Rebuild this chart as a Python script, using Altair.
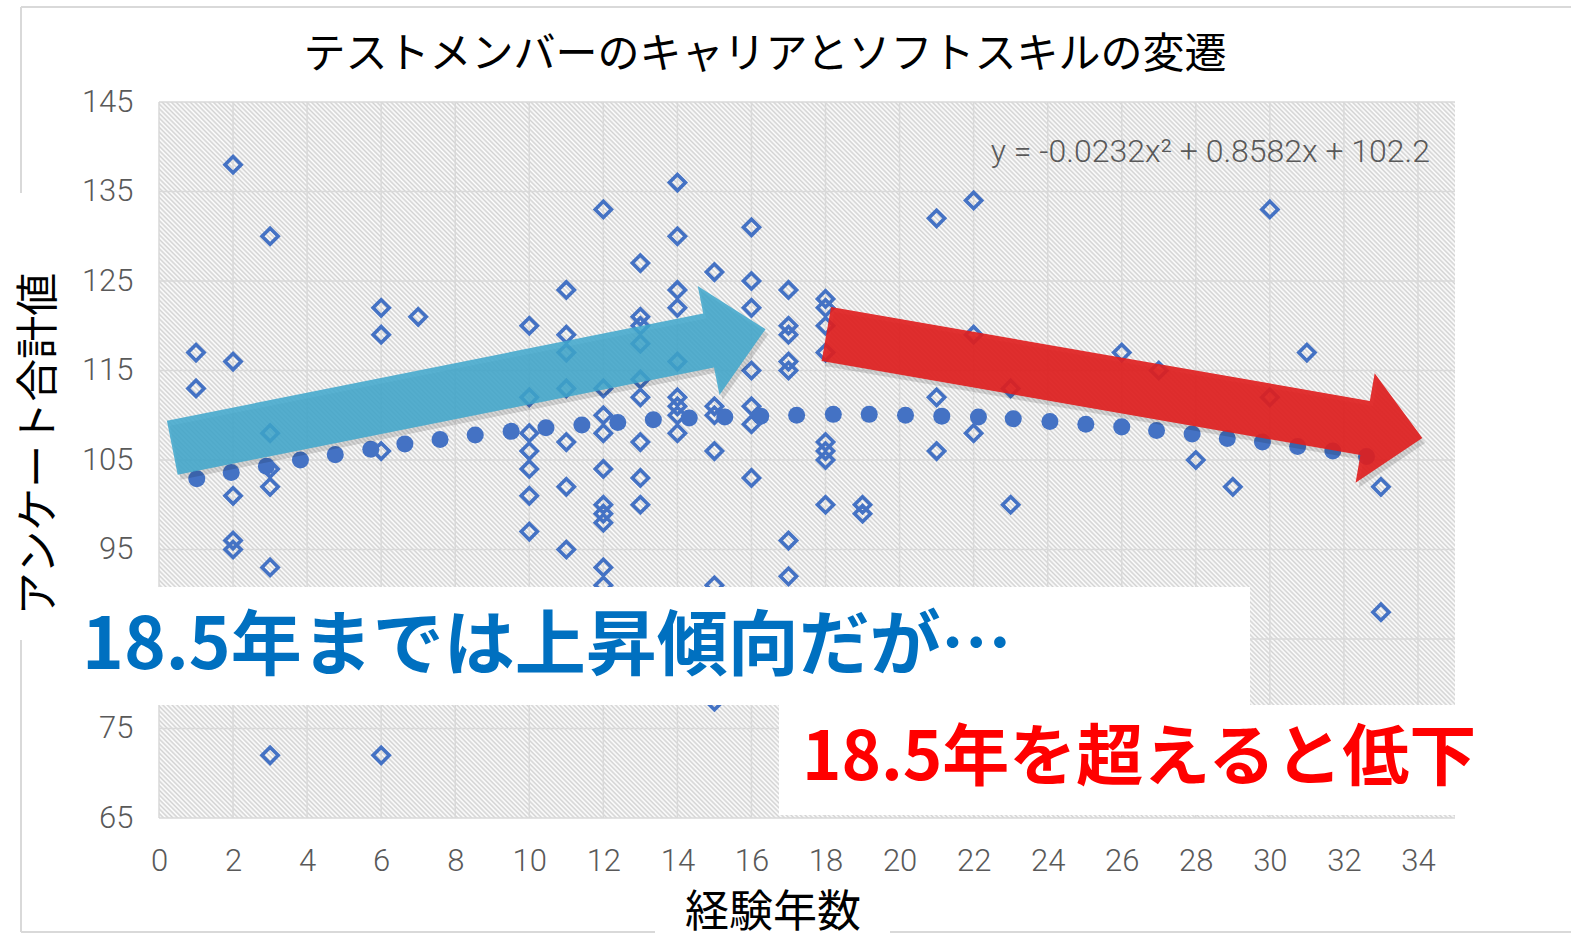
import altair as alt
import pandas as pd

# ---------------- data ----------------
years = [1, 1,
         2, 2, 2, 2, 2,
         3, 3, 3, 3, 3, 3,
         6, 6, 6, 6,
         7,
         10, 10, 10, 10, 10, 10, 10,
         11, 11, 11, 11, 11, 11, 11,
         12, 12, 12, 12, 12, 12, 12, 12, 12, 12,
         13, 13, 13, 13, 13, 13, 13, 13, 13,
         14, 14, 14, 14, 14, 14, 14, 14, 14,
         15, 15, 15, 15, 15, 15,
         16, 16, 16, 16, 16, 16, 16,
         17, 17, 17, 17, 17, 17, 17,
         18, 18, 18, 18, 18, 18, 18, 18,
         19, 19,
         21, 21, 21,
         22, 22, 22,
         23, 23,
         26, 27, 28, 29,
         30, 30,
         31,
         33, 33]
scores = [117, 113,
          138, 116, 101, 96, 95,
          130, 108, 104, 102, 93, 72,
          122, 119, 106, 72,
          121,
          120, 112, 108, 106, 104, 101, 97,
          124, 119, 117, 113, 107, 102, 95,
          133, 113, 110, 108, 104, 100, 99, 98, 93, 91,
          127, 121, 120, 118, 114, 112, 107, 103, 100,
          136, 130, 124, 122, 116, 112, 111, 110, 108,
          126, 111, 110, 106, 91, 78,
          131, 125, 122, 115, 111, 109, 103,
          124, 120, 119, 116, 115, 96, 92,
          123, 122, 120, 117, 107, 106, 105, 100,
          100, 99,
          132, 112, 106,
          134, 119, 108,
          113, 100,
          117, 115, 105, 102,
          133, 112,
          117,
          102, 88]

# dots of the (round-dot) trend line
trend_x = [1.02, 1.95, 2.90, 3.82, 4.76, 5.72, 6.64, 7.59, 8.54, 9.51,
           10.45, 11.42, 12.39, 13.35, 14.32, 15.28, 16.25, 17.22, 18.21, 19.18,
           20.16, 21.14, 22.13, 23.07, 24.06, 25.03, 26.00, 26.94, 27.90, 28.85,
           29.80, 30.75, 31.70, 32.61]
trend_y = [102.9, 103.6, 104.3, 105.0, 105.6, 106.2, 106.8, 107.3, 107.8, 108.2,
           108.6, 108.9, 109.2, 109.5, 109.7, 109.8, 109.9, 110.0, 110.1, 110.1,
           110.0, 109.9, 109.8, 109.6, 109.3, 109.0, 108.7, 108.3, 107.9, 107.4,
           107.0, 106.5, 106.0, 105.4]

x_ticks = list(range(0, 35, 2))
y_grid = list(range(65, 146, 10))
y_labels = [65, 75, 95, 105, 115, 125, 135, 145]   # "85" is hidden in the reference

title_text = "テストメンバーのキャリアとソフトスキルの変遷"
x_title = "経験年数"
y_title = "アンケート合計値"
equation = "y = -0.0232x² + 0.8582x + 102.2"
note_up = "18.5年までは上昇傾向だが…"
note_down = "18.5年を超えると低下"

# annotation arrows: centre (data units) and rotation
arrow_up = {"x": 8.37, "y": 113.0, "angle": 348.7}
arrow_down = {"x": 26.07, "y": 113.27, "angle": 9.9}

# ---------------- styling ----------------
W, H = 1296, 716
BLUE = "#4472C4"
GRID = "#D9D9D9"
LABEL = "#595959"
NUM_FONT = "Roboto"
JP_FONT = "Noto Sans CJK JP"

XS = alt.Scale(domain=[0, 35], nice=False, zero=False)
YS = alt.Scale(domain=[65, 145], nice=False, zero=False)

# diagonal hatch of the plot area, as a striped linear gradient
N_STRIPES = 431
stops = []
for k in range(N_STRIPES):
    stops.append({"offset": k / N_STRIPES, "color": "#d2d2d2"})
    stops.append({"offset": (k + 0.45) / N_STRIPES, "color": "#ffffff"})
stops.append({"offset": 1.0, "color": "#d2d2d2"})
s = (W + H) / (W * W + H * H)
HATCH = {"gradient": "linear", "x1": 0, "y1": 1,
         "x2": s * W, "y2": 1 - s * H, "stops": stops}

ARROW_PATH = ("M-1,-0.0909L0.808,-0.0909L0.808,-0.1835L1,0"
              "L0.808,0.1835L0.808,0.0909L-1,0.0909Z")
ARROW_SIZE = 605 * 605

one = pd.DataFrame({"d": [0]})

hatch = alt.Chart(one).mark_rect(fill=HATCH).encode(
    x=alt.value(0), x2=alt.value(W), y=alt.value(0), y2=alt.value(H))

grid_x = alt.Chart(pd.DataFrame({"x": x_ticks})).mark_rule(
    color=GRID, strokeWidth=1.5).encode(x=alt.X("x:Q", scale=XS))
grid_y = alt.Chart(pd.DataFrame({"y": y_grid})).mark_rule(
    color=GRID, strokeWidth=1.5).encode(y=alt.Y("y:Q", scale=YS))

eq = alt.Chart(pd.DataFrame({"t": [equation]})).mark_text(
    font=NUM_FONT, fontSize=32, fontWeight=300, color=LABEL, align="right",
    baseline="middle"
).encode(x=alt.value(1271), y=alt.value(50), text="t:N")

pts = alt.Chart(pd.DataFrame({"x": years, "y": scores})).mark_point(
    shape="diamond", filled=False, size=260, strokeWidth=3.6, color=BLUE, opacity=1
).encode(
    x=alt.X("x:Q", scale=XS, axis=alt.Axis(
        values=x_ticks, title=None, grid=False, domain=False, ticks=False,
        tickSize=0, labelFont=NUM_FONT, labelFontSize=31, labelFontWeight=300,
        labelColor=LABEL, labelPadding=28, labelFlush=False)),
    y=alt.Y("y:Q", scale=YS, axis=alt.Axis(
        values=y_labels, title=None, grid=False, domain=False, ticks=False,
        tickSize=0, labelFont=NUM_FONT, labelFontSize=31, labelFontWeight=300,
        labelColor=LABEL, labelPadding=26, labelFlush=False)),
)

trend = alt.Chart(pd.DataFrame({"x": trend_x, "y": trend_y})).mark_circle(
    size=290, color=BLUE, opacity=1).encode(
    x=alt.X("x:Q", scale=XS), y=alt.Y("y:Q", scale=YS))


def arrow(spec, color, opacity, dx=0, dy=0):
    return alt.Chart(pd.DataFrame({"x": [spec["x"]], "y": [spec["y"]]})).mark_point(
        shape=ARROW_PATH, filled=True, size=ARROW_SIZE, angle=spec["angle"],
        color=color, opacity=opacity, strokeWidth=0, xOffset=dx, yOffset=dy
    ).encode(x=alt.X("x:Q", scale=XS), y=alt.Y("y:Q", scale=YS))


arrows = [
    arrow(arrow_up, "#000000", 0.13, 3, 5),
    arrow(arrow_down, "#000000", 0.13, 3, 5),
    arrow(arrow_up, "#3FA6CC", 0.86),
    arrow(arrow_down, "#E01F1F", 0.92),
]

box_up = alt.Chart(one).mark_rect(color="white").encode(
    x=alt.value(-97), x2=alt.value(1091), y=alt.value(485), y2=alt.value(603))
box_down = alt.Chart(one).mark_rect(color="white").encode(
    x=alt.value(620), x2=alt.value(1330), y=alt.value(603), y2=alt.value(713))

txt_up = alt.Chart(pd.DataFrame({"t": [note_up]})).mark_text(
    font=JP_FONT, fontSize=71, fontWeight="bold", color="#0070C0",
    align="left", baseline="middle").encode(
    x=alt.value(-77), y=alt.value(546), text="t:N")
txt_down = alt.Chart(pd.DataFrame({"t": [note_down]})).mark_text(
    font=JP_FONT, fontSize=67, fontWeight="bold", color="#FF0000",
    align="left", baseline="middle").encode(
    x=alt.value(643), y=alt.value(658), text="t:N")

title = alt.Chart(pd.DataFrame({"t": [title_text]})).mark_text(
    font=JP_FONT, fontSize=42, color="black", align="center", baseline="middle"
).encode(x=alt.value(606), y=alt.value(-47), text="t:N")
xt = alt.Chart(pd.DataFrame({"t": [x_title]})).mark_text(
    font=JP_FONT, fontSize=44, color="black", align="center", baseline="middle"
).encode(x=alt.value(614), y=alt.value(812), text="t:N")
yt = alt.Chart(pd.DataFrame({"t": [y_title]})).mark_text(
    font=JP_FONT, fontSize=43, color="black", align="center", baseline="middle",
    angle=270).encode(x=alt.value(-119), y=alt.value(342), text="t:N")


def hline(x1, x2, y):
    return alt.Chart(one).mark_rule(color=GRID, strokeWidth=2).encode(
        x=alt.value(x1), x2=alt.value(x2), y=alt.value(y))


def vline(x, y1, y2):
    return alt.Chart(one).mark_rule(color=GRID, strokeWidth=2).encode(
        x=alt.value(x), y=alt.value(y1), y2=alt.value(y2))


frame = [hline(-138, 1412, -95), vline(-138, -95, 91), vline(-138, 538, 830),
         hline(-138, 496, 830), hline(731, 1412, 830)]

chart = alt.layer(
    hatch, grid_x, grid_y, eq, pts, trend, *arrows,
    box_up, box_down, txt_up, txt_down, title, xt, yt, *frame
).properties(
    width=W, height=H,
    autosize=alt.AutoSizeParams(type="none"),
    padding={"left": 159, "top": 102, "right": 116, "bottom": 119},
    background="white",
).configure_view(strokeWidth=0)

chart.save("out.html", embed_options={"renderer": "svg", "actions": False})
